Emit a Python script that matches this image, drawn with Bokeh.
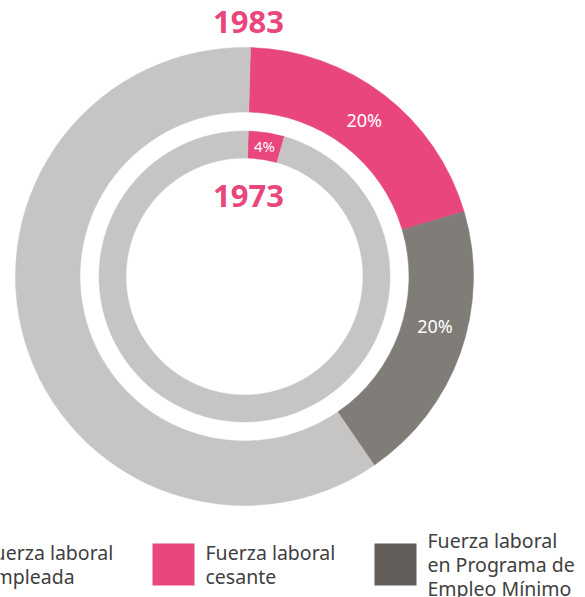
import math
from bokeh.plotting import figure
from bokeh.models import Range1d, ColumnDataSource
from bokeh.core.properties import value
from bokeh.embed import file_html
from bokeh.resources import INLINE

# ---- data ----
categories = ["Fuerza laboral\nempleada", "Fuerza laboral\ncesante",
              "Fuerza laboral\nen Programa de\nEmpleo Mínimo"]
share_1983 = [20, 20, 60]          # cesante, PEM, empleada (clockwise from top)
share_1983_keys = ["cesante", "pem", "empleada"]
share_1973 = [4, 96]               # cesante, empleada
share_1973_keys = ["cesante", "empleada"]
year_outer = "1983"
year_inner = "1973"

# ---- styles ----
PINK = "#E8467C"
DARK = "#807C78"
LIGHT = "#C6C5C4"
LEGEND_DARK = "#635E5A"
colors = {"cesante": PINK, "pem": DARK, "empleada": LIGHT}
legend_colors = [LIGHT, PINK, LEGEND_DARK]
FONT = "Noto Sans"

W, H = 585, 597
p = figure(width=W, height=H, output_backend="svg", toolbar_location=None,
           x_range=Range1d(0, W), y_range=Range1d(0, H),
           min_border=0, outline_line_color=None)
p.axis.visible = False
p.grid.visible = False
p.background_fill_color = "white"

def Y(ref_y):
    return H - ref_y

cx, cy = 244, Y(276)
start_off = math.radians(1.5)


def ring(vals, keys, r_in, r_out, label_size, label_shift):
    total = sum(vals)
    starts, ends, cols, lx, ly, labs = [], [], [], [], [], []
    acc = 0.0
    for i, (v, k) in enumerate(zip(vals, keys)):
        a0 = start_off + 2 * math.pi * acc / total
        acc += v
        a1 = start_off + 2 * math.pi * acc / total
        starts.append(math.pi / 2 - a0)
        ends.append(math.pi / 2 - a1)
        cols.append(colors[k])
        if k != "empleada":
            am = (a0 + a1) / 2 + math.radians(label_shift[i])
            rm = (r_in + r_out) / 2
            lx.append(cx + rm * math.sin(am))
            ly.append(cy + rm * math.cos(am))
            labs.append(f"{v}%")
    src = ColumnDataSource(dict(s=starts, e=ends, c=cols))
    p.annular_wedge(x=cx, y=cy, inner_radius=r_in, outer_radius=r_out,
                    start_angle="s", end_angle="e", direction="clock",
                    fill_color="c", line_color="c", line_width=0.5, source=src)
    p.text(x=lx, y=ly, text=labs, text_color="white",
           text_font=value(FONT), text_font_size=label_size,
           text_align="center", text_baseline="middle")


ring(share_1983, share_1983_keys, 164.5, 229, "18px", [0, -5, 0])
ring(share_1973, share_1973_keys, 118.5, 145.5, "15px", [0, 0])

p.text(x=[248], y=[Y(21)], text=[year_outer], text_color=PINK,
       text_font=value(FONT), text_font_style="bold", text_font_size="31px",
       text_align="center", text_baseline="middle")
p.text(x=[248], y=[Y(195)], text=[year_inner], text_color=PINK,
       text_font=value(FONT), text_font_style="bold", text_font_size="31px",
       text_align="center", text_baseline="middle")

# legend
step = 222
sq_x = [152 - step + step * i for i in range(3)]
p.rect(x=[x + 21 for x in sq_x], y=[Y(564)] * 3, width=42, height=42,
       fill_color=legend_colors, line_color=None)
p.text(x=[x + 53 for x in sq_x], y=[Y(564)] * 3, text=categories,
       text_color="#404040", text_font=value(FONT), text_font_size="19.5px",
       text_align="left", text_baseline="middle", text_line_height=0.9)

open("out.html", "w").write(file_html(p, INLINE))
